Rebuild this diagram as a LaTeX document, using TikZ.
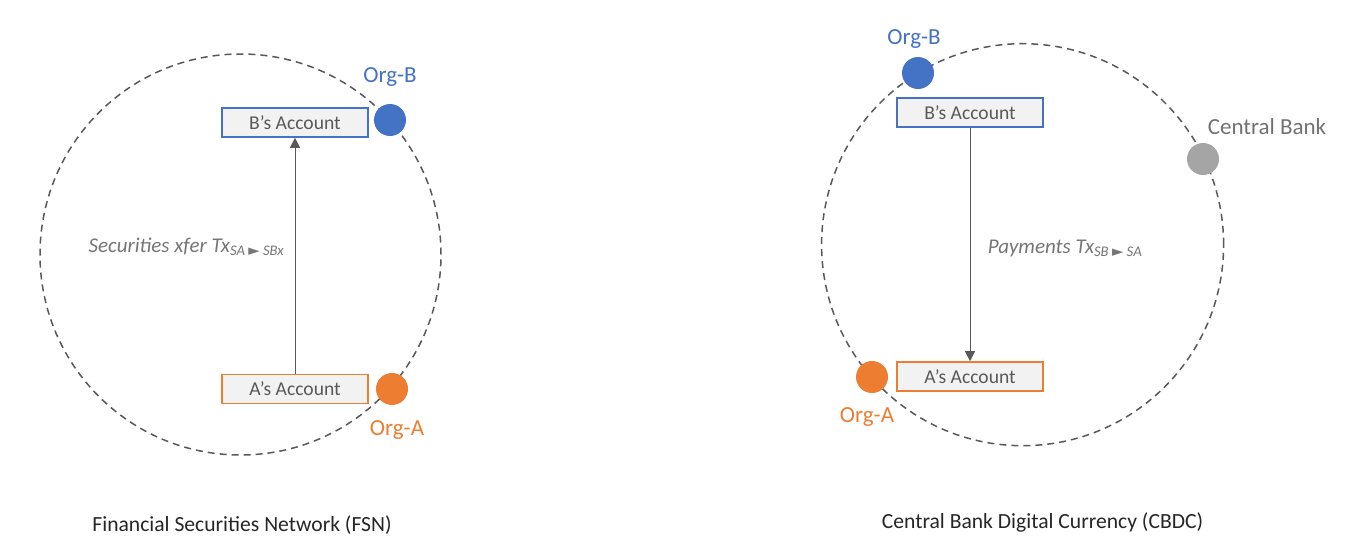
\documentclass[tikz,border=0pt]{standalone}
\usepackage{fontspec}
\setmainfont{Carlito}
\newfontfamily\symfont{DejaVu Sans}
\usetikzlibrary{arrows.meta}
\definecolor{cblue}{HTML}{4472C4}
\definecolor{corange}{HTML}{ED7D31}
\definecolor{cgray}{HTML}{A5A5A5}
\definecolor{boxfill}{HTML}{F2F2F2}
\definecolor{txt}{HTML}{595959}
\definecolor{lbl}{HTML}{767676}
\begin{document}
\begin{tikzpicture}[x=1pt,y=-1pt,
 acct/.style={draw=#1, line width=1.6pt, fill=boxfill, minimum width=146pt, minimum height=29pt, inner sep=0pt, text=txt, font=\fontsize{19.6}{22}\selectfont},
 org/.style={circle, fill=#1, minimum size=32pt, inner sep=0pt},
 orglbl/.style={text=#1, font=\fontsize{23}{26}\selectfont, inner sep=0pt},
 ring/.style={draw=txt, line width=1.5pt, dash pattern=on 7pt off 5pt},
 flow/.style={draw=txt, line width=0.8pt, -{Triangle[length=10pt,width=10pt]}},
 txlbl/.style={text=lbl, font=\itshape\fontsize{21}{24}\selectfont, inner sep=0pt},
 title/.style={text=black!85, font=\fontsize{21.6}{24}\selectfont, inner sep=0pt}]
\useasboundingbox[fill=white] (0,0) rectangle (1356,554);

% ---------- Left: FSN ----------
\draw[ring] (240.5,254.5) circle[radius=200.5pt];
\node[acct=cblue] (lB) at (295,122.5) {B’s Account};
\node[acct=corange] (lA) at (295,389) {A’s Account};
\node[org=cblue] (lOrgB) at (390,120) {};
\node[org=corange] (lOrgA) at (392,389) {};
\node[orglbl=cblue] (lOrgBl) at (390,77) {Org-B};
\node[orglbl=corange] (lOrgAl) at (397,430) {Org-A};
\draw[flow] (lA.north) -- (lB.south);
\node[txlbl] (lTx) at (186.5,247) {Securities xfer Tx\textsubscript{SA {\symfont\upshape ►} SBx}};
\node[title] (lTitle) at (242,525) {Financial Securities Network (FSN)};

% ---------- Right: CBDC ----------
\draw[ring] (1022.6,244.7) circle[radius=201pt];
\node[acct=cblue] (rB) at (970,112.5) {B’s Account};
\node[acct=corange] (rA) at (970,376.5) {A’s Account};
\node[org=cblue] (rOrgB) at (918,73) {};
\node[org=corange] (rOrgA) at (872,377) {};
\node[org=cgray] (rCB) at (1203,159) {};
\node[orglbl=cblue] (rOrgBl) at (914,39) {Org-B};
\node[orglbl=corange] (rOrgAl) at (867,417) {Org-A};
\node[orglbl=txt!85] (rCBl) at (1267,127) {Central Bank};
\draw[flow] (rB.south) -- (rA.north);
\node[txlbl] (rTx) at (1065,248) {Payments Tx\textsubscript{SB {\symfont\upshape ►} SA}};
\node[title] (rTitle) at (1042.5,522) {Central Bank Digital Currency (CBDC)};
\end{tikzpicture}
\end{document}
